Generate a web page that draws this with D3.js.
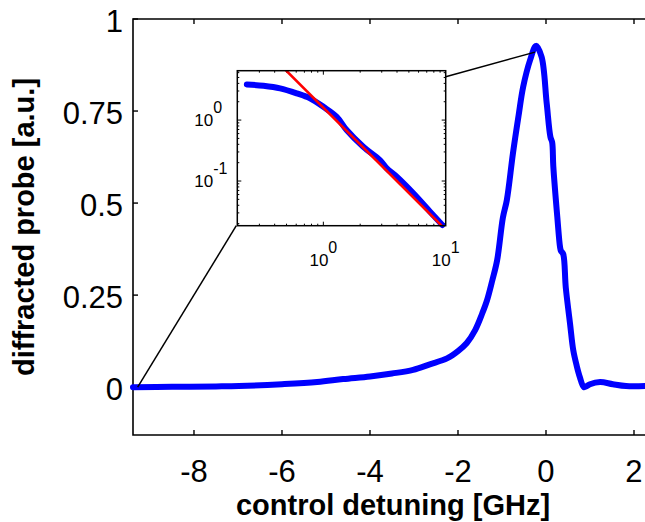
<!DOCTYPE html>
<html>
<head>
<meta charset="utf-8">
<script src="https://cdn.jsdelivr.net/npm/d3@7"></script>
<style>
body { margin: 0; background: white; }
text { font-family: "Liberation Sans", Arial, Helvetica, sans-serif; fill: black; }
</style>
</head>
<body>
<svg id="chart"></svg>
<script>
// main curve
var detuning = [-9.386, -8.5, -7.5, -6.98, -6, -5.2, -4.61, -4.0, -3.5, -3.02, -2.64, -2.25, -2.0, -1.8, -1.61, -1.45, -1.34, -1.22, -1.11, -0.98, -0.89, -0.75, -0.62, -0.52, -0.36, -0.227, -0.1, 0.015, 0.1, 0.14, 0.166, 0.257, 0.32, 0.34, 0.39, 0.45, 0.545, 0.62, 0.7, 0.77, 0.86, 0.93, 1.0, 1.23, 1.52, 1.82, 2.25]
var probe = [0.0, 0.001, 0.002, 0.003, 0.008, 0.014, 0.022, 0.029, 0.037, 0.047, 0.062, 0.078, 0.098, 0.12, 0.155, 0.2, 0.236, 0.29, 0.345, 0.46, 0.508, 0.636, 0.74, 0.815, 0.889, 0.927, 0.897, 0.772, 0.68, 0.665, 0.6, 0.462, 0.38, 0.37, 0.362, 0.27, 0.174, 0.1, 0.057, 0.027, 0.0, 0.003, 0.008, 0.014, 0.008, 0.003, 0.003]

// inset (log-log)
var insetX = [0.237, 0.324, 0.443, 0.606, 0.778, 1.0, 1.286, 1.55, 2.12, 2.9, 3.3, 3.98, 5.44, 7.45, 9.38]
var insetY = [3.85, 3.65, 3.31, 2.74, 2.27, 1.65, 1.13, 0.686, 0.365, 0.221, 0.161, 0.1175, 0.0628, 0.0314, 0.019]
var fitX = [0.45, 9.27]
var fitY = [7.9, 0.0185]

var xTicks = [-8, -6, -4, -2, 0, 2]
var yTicks = [0, 0.25, 0.5, 0.75, 1]
var yTickLabels = ["0", "0.25", "0.5", "0.75", "1"]
var insetXTicks = [1, 10]
var insetXTickExp = ["0", "1"]
var insetYTicks = [1, 0.1]
var insetYTickExp = ["0", "-1"]

var screen = {width:645,height:522}
var box = {left:133,right:645,top:19,bottom:435}
var inset = {left:237.3,right:445.7,top:70.7,bottom:225.7}

var svg = d3.select("#chart")
    .attr("width",screen.width)
    .attr("height",screen.height)

var xScale = d3.scaleLinear()
    .domain([-9.386,2.25])
    .range([box.left,box.right])

var yScale = d3.scaleLinear()
    .domain([-0.13,1])
    .range([box.bottom,box.top])

// frame (right side is cut off in the picture)
svg.append("path")
    .attr("d","M"+(box.right+5)+","+box.top+"H"+box.left+"V"+box.bottom+"H"+(box.right+5))
    .attr("fill","none")
    .attr("stroke","black")
    .attr("stroke-width",1.6)

// ticks, pointing inwards
svg.append("g")
    .selectAll("line")
    .data(xTicks)
    .enter()
    .append("line")
    .attr("x1",function(d){return xScale(d)})
    .attr("x2",function(d){return xScale(d)})
    .attr("y1",box.bottom)
    .attr("y2",box.bottom-5)
    .attr("stroke","black")
    .attr("stroke-width",1.4)

svg.append("g")
    .selectAll("line")
    .data(xTicks)
    .enter()
    .append("line")
    .attr("x1",function(d){return xScale(d)})
    .attr("x2",function(d){return xScale(d)})
    .attr("y1",box.top)
    .attr("y2",box.top+5)
    .attr("stroke","black")
    .attr("stroke-width",1.4)

svg.append("g")
    .selectAll("line")
    .data(yTicks)
    .enter()
    .append("line")
    .attr("x1",box.left)
    .attr("x2",box.left+5)
    .attr("y1",function(d){return yScale(d)})
    .attr("y2",function(d){return yScale(d)})
    .attr("stroke","black")
    .attr("stroke-width",1.4)

svg.append("g")
    .selectAll("text")
    .data(xTicks)
    .enter()
    .append("text")
    .attr("x",function(d){return xScale(d)})
    .attr("y",box.bottom+47)
    .attr("text-anchor","middle")
    .attr("font-size",31)
    .text(function(d){return d})

svg.append("g")
    .selectAll("text")
    .data(yTicks)
    .enter()
    .append("text")
    .attr("x",box.left-10)
    .attr("y",function(d){return yScale(d)+13})
    .attr("text-anchor","end")
    .attr("font-size",31)
    .text(function(d,i){return yTickLabels[i]})

svg.append("text")
    .attr("x",393)
    .attr("y",515)
    .attr("text-anchor","middle")
    .attr("font-size",29)
    .attr("font-weight","bold")
    .text("control detuning [GHz]")

svg.append("text")
    .attr("transform","translate(34,227) rotate(-90)")
    .attr("text-anchor","middle")
    .attr("font-size",29)
    .attr("font-weight","bold")
    .text("diffracted probe [a.u.]")

// main curve
var mainLine = d3.line()
    .x(function(d){return xScale(d)})
    .y(function(d,i){return yScale(probe[i])})
    .curve(d3.curveCatmullRom)

svg.append("path")
    .datum(detuning)
    .attr("d",mainLine)
    .attr("fill","none")
    .attr("stroke","#0000ff")
    .attr("stroke-width",6)
    .attr("stroke-linejoin","round")
    .attr("stroke-linecap","round")

// connector lines from inset corners to the curve
svg.append("line")
    .attr("x1",inset.left-1)
    .attr("y1",inset.bottom)
    .attr("x2",xScale(-9.28))
    .attr("y2",yScale(0.0))
    .attr("stroke","black")
    .attr("stroke-width",1.5)

svg.append("line")
    .attr("x1",inset.right)
    .attr("y1",inset.top+6)
    .attr("x2",xScale(-0.25))
    .attr("y2",yScale(0.91))
    .attr("stroke","black")
    .attr("stroke-width",1.5)

// inset
var ix = d3.scaleLog()
    .domain([0.198,10])
    .range([inset.left,inset.right])

var iy = d3.scaleLog()
    .domain([0.01849,6.457])
    .range([inset.bottom,inset.top])

var ig = svg.append("g")

ig.append("rect")
    .attr("x",inset.left)
    .attr("y",inset.top)
    .attr("width",inset.right-inset.left)
    .attr("height",inset.bottom-inset.top)
    .attr("fill","white")

ig.append("clipPath")
    .attr("id","insetClip")
    .append("rect")
    .attr("x",inset.left)
    .attr("y",inset.top)
    .attr("width",inset.right-inset.left)
    .attr("height",inset.bottom-inset.top)

var xMinor = ix.ticks().filter(function(d){return d>0.198 && d<10})
var yMinor = iy.ticks().filter(function(d){return d>0.01849 && d<6.457})

var tickLen = function(d){ return (Math.abs(Math.log10(d)-Math.round(Math.log10(d)))<1e-6) ? 4 : 2 }

ig.append("g")
    .selectAll("path")
    .data(xMinor)
    .enter()
    .append("path")
    .attr("d",function(d){
        var x = ix(d)
        return "M"+x+","+inset.bottom+"v"+(-tickLen(d))+"M"+x+","+inset.top+"v"+tickLen(d)
    })
    .attr("stroke","black")
    .attr("stroke-width",1)

ig.append("g")
    .selectAll("path")
    .data(yMinor)
    .enter()
    .append("path")
    .attr("d",function(d){
        var y = iy(d)
        return "M"+inset.left+","+y+"h"+tickLen(d)+"M"+inset.right+","+y+"h"+(-tickLen(d))
    })
    .attr("stroke","black")
    .attr("stroke-width",1)

var insetLine = d3.line()
    .x(function(d){return ix(d)})
    .y(function(d,i){return iy(insetY[i])})
    .curve(d3.curveCatmullRom)

ig.append("path")
    .datum(insetX)
    .attr("d",insetLine)
    .attr("fill","none")
    .attr("stroke","#0000ff")
    .attr("stroke-width",6)
    .attr("stroke-linejoin","round")
    .attr("stroke-linecap","round")

var fitLine = d3.line()
    .x(function(d){return ix(d)})
    .y(function(d,i){return iy(fitY[i])})

ig.append("path")
    .datum(fitX)
    .attr("d",fitLine)
    .attr("clip-path","url(#insetClip)")
    .attr("fill","none")
    .attr("stroke","#ff0000")
    .attr("stroke-width",2.6)

ig.append("rect")
    .attr("x",inset.left)
    .attr("y",inset.top)
    .attr("width",inset.right-inset.left)
    .attr("height",inset.bottom-inset.top)
    .attr("fill","none")
    .attr("stroke","black")
    .attr("stroke-width",1.5)

var xl = ig.append("g")
    .selectAll("text")
    .data(insetXTicks)
    .enter()
    .append("text")
    .attr("x",function(d){return ix(d)})
    .attr("y",inset.bottom+40)
    .attr("text-anchor","middle")
    .attr("font-size",17)
xl.append("tspan").text("10")
xl.append("tspan")
    .attr("dy",-13)
    .attr("font-size",16)
    .text(function(d,i){return insetXTickExp[i]})

var yl = ig.append("g")
    .selectAll("text")
    .data(insetYTicks)
    .enter()
    .append("text")
    .attr("x",inset.left-43)
    .attr("y",function(d){return iy(d)+6})
    .attr("font-size",17)
yl.append("tspan").text("10")
yl.append("tspan")
    .attr("dy",-13)
    .attr("font-size",16)
    .text(function(d,i){return insetYTickExp[i]})
</script>
</body>
</html>
